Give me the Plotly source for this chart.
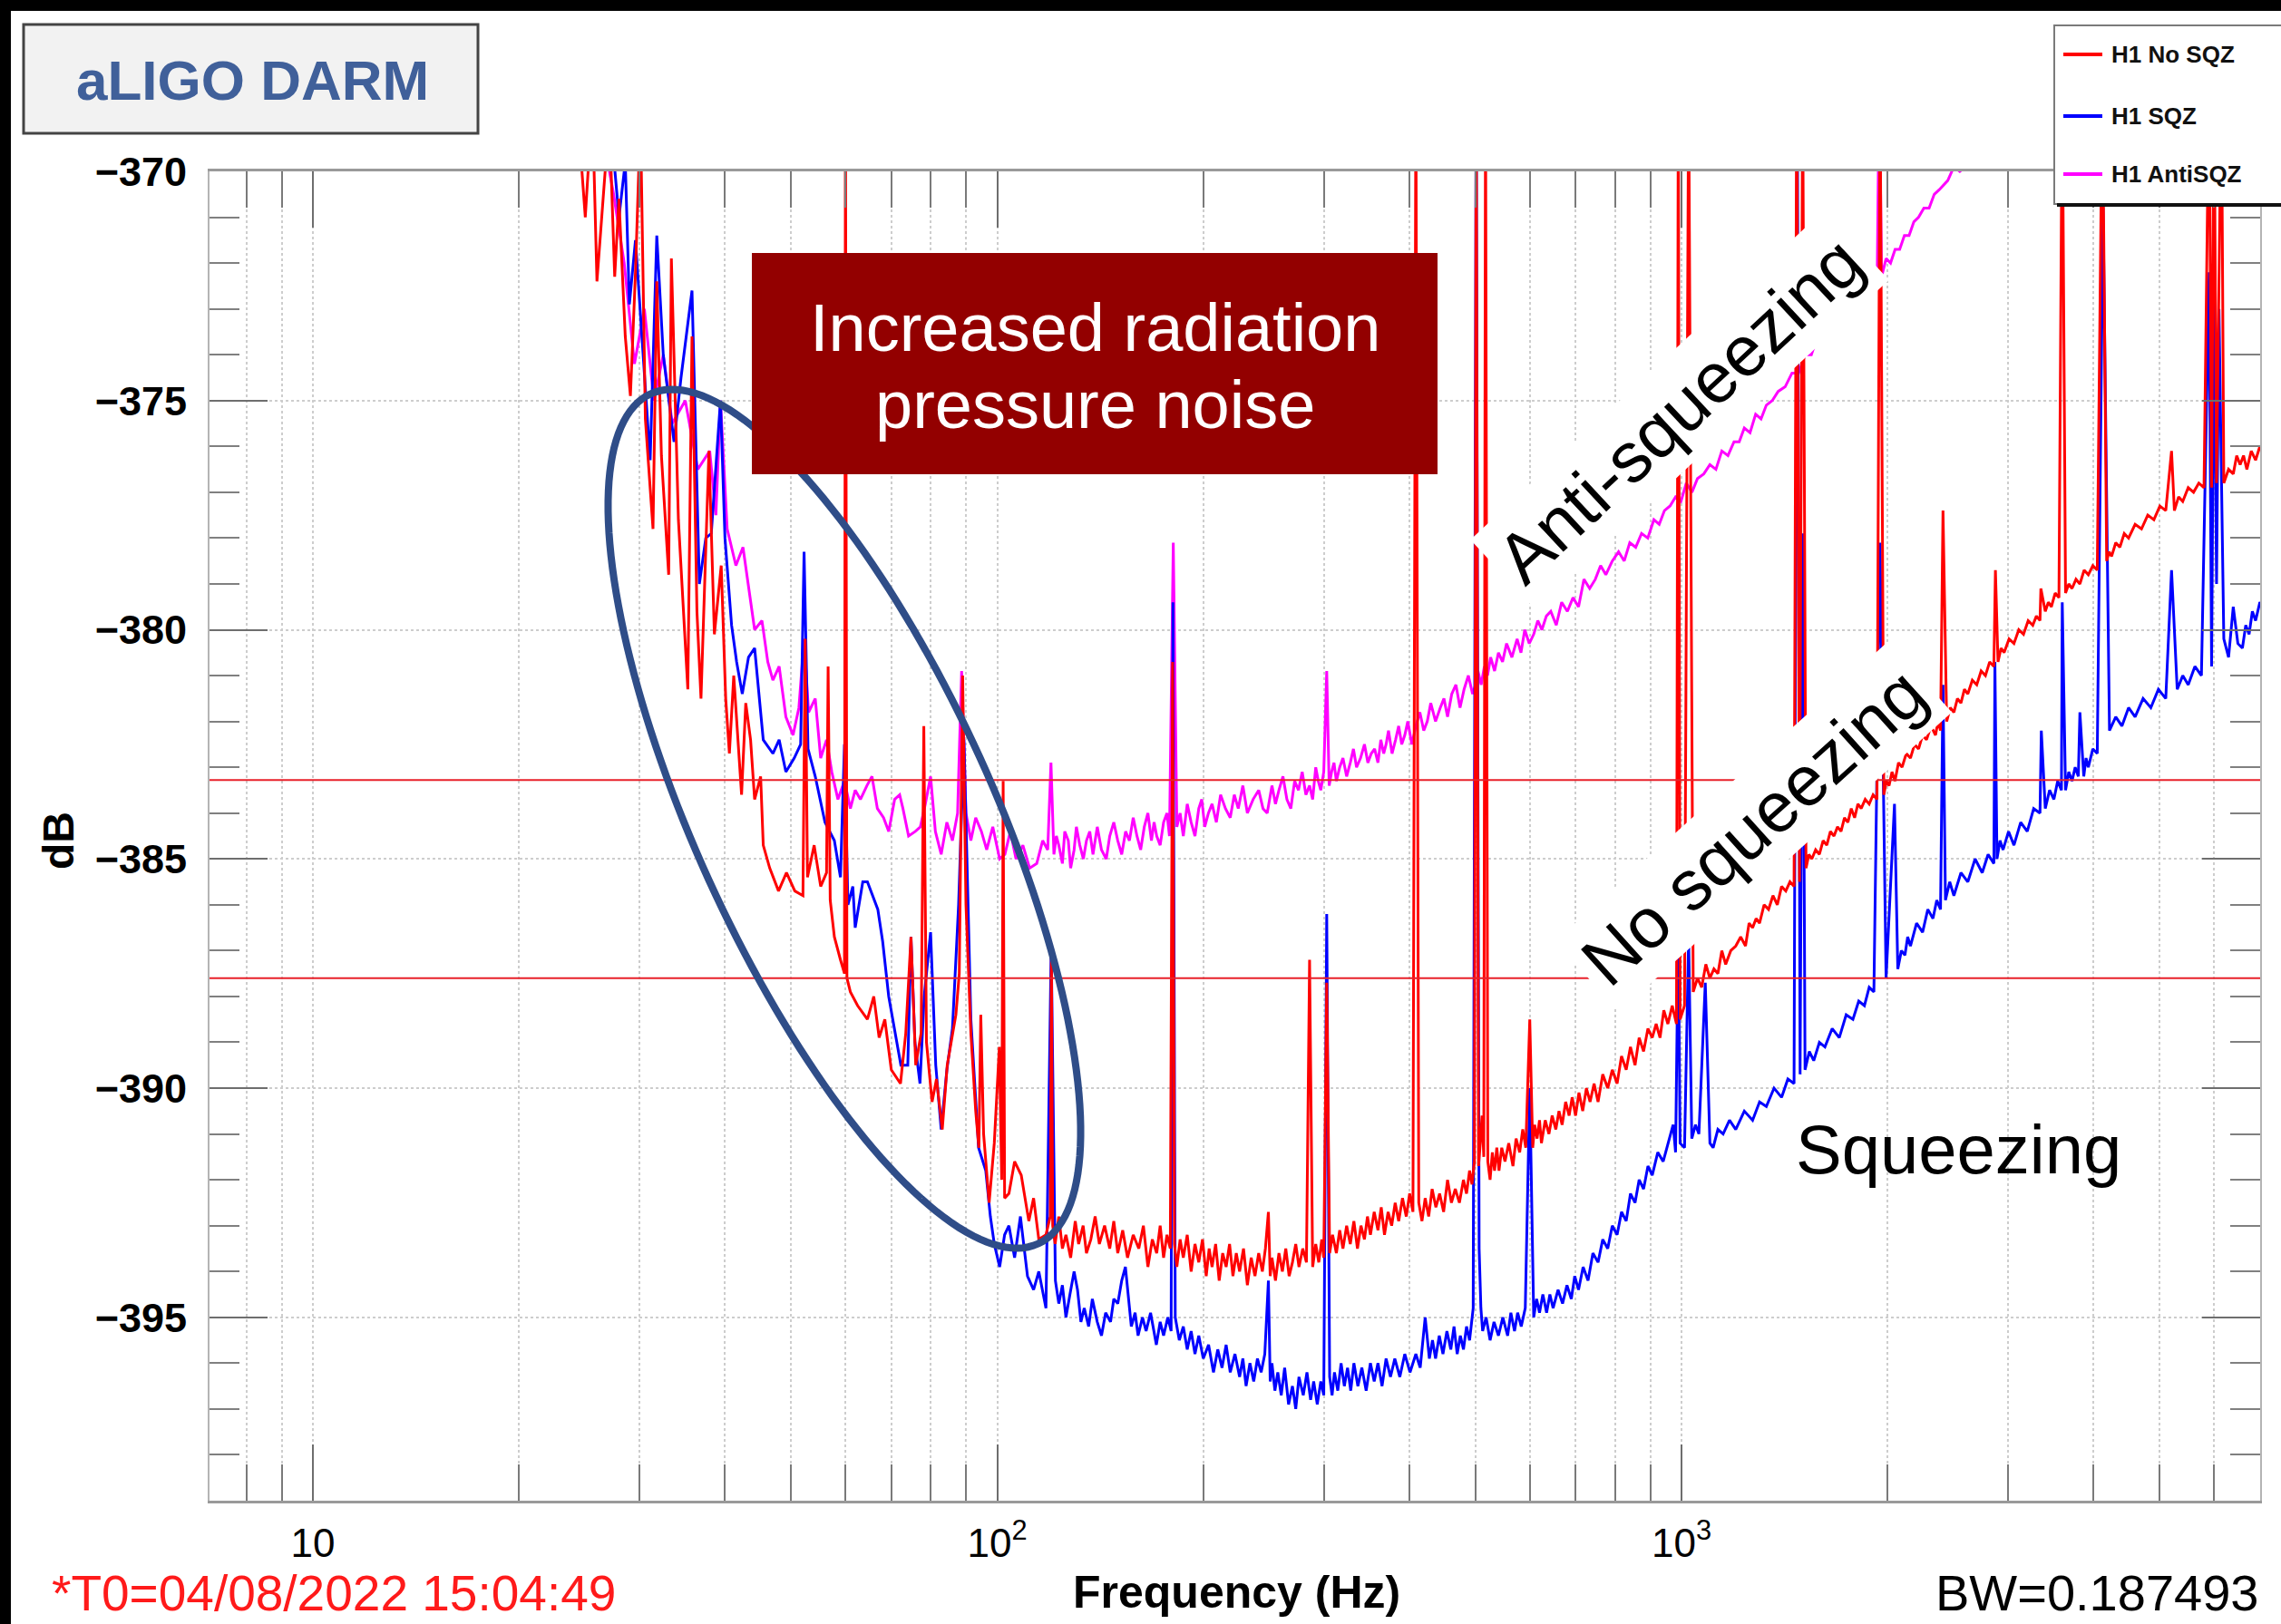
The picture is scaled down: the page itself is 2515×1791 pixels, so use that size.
import numpy as np
import plotly.graph_objects as go

# ---------------------------------------------------------------------------
# DARM spectra (frequency in Hz, level in dB), split into frequency bands
# ---------------------------------------------------------------------------
# H1 No SQZ
red_f_low = [
    20.0, 24.5, 25.0, 25.6, 26.0, 26.5, 27.1, 27.6, 28.0, 28.6,
    29.1, 29.6, 30.1, 30.6, 31.4, 31.8, 32.3, 33.1, 33.4, 34.2,
    35.3, 35.8, 36.4, 36.9, 37.9, 38.6, 39.5, 40.1, 40.6, 41.2,
    42.3, 42.9, 43.6, 44.2, 45.1, 45.5, 46.5, 47.9, 49.2, 50.6,
    52.0, 52.4, 52.8, 54.0, 55.2, 56.3, 56.6, 57.0, 57.8, 59.0,
    59.8, 60.0, 60.3, 61.0, 62.5, 64.6, 66.0, 67.2, 68.5, 70.0,
    72.2, 73.5, 74.8, 76.0, 77.4, 78.1, 78.8, 80.3, 81.5, 83.1,
    84.5, 87.0, 88.0, 89.0, 90.0, 91.5, 93.0, 94.0, 94.6, 95.5,
    97.3, 99.0, 100.7, 101.5, 102.0, 102.5, 104.0, 106.0, 108.4, 111.2,
    113.0, 115.0, 117.8, 119.5, 120.0, 120.5,
]
red_db_low = [
    -362.0, -369.2, -371.0, -368.5, -372.4, -370.8, -368.8, -372.3, -370.6, -373.6,
    -374.9, -372.2, -368.8, -375.4, -377.8, -372.4, -376.2, -378.8, -371.9, -377.6,
    -381.3, -373.6, -379.6, -381.5, -376.1, -380.1, -378.6, -381.5, -382.7, -381.0,
    -383.6, -381.6, -382.4, -383.7, -383.2, -384.7, -385.2, -385.7, -385.3, -385.7,
    -385.8, -380.2, -385.4, -384.7, -385.6, -385.3, -380.8, -385.9, -386.7, -387.2,
    -387.5, -368.0, -387.6, -387.9, -388.2, -388.5, -388.0, -388.9, -388.5, -389.6,
    -389.9, -388.8, -386.7, -389.5, -388.8, -382.1, -389.0, -390.3, -389.8, -390.9,
    -389.5, -388.4, -387.5, -381.0, -386.0, -388.8, -390.5, -391.3, -388.4, -391.0,
    -392.5, -391.2, -389.1, -392.0, -383.3, -392.4, -392.3, -391.6, -391.9, -392.9,
    -392.4, -393.3, -393.2, -392.8, -387.1, -393.0,
]
red_f_mid = [
    121.5, 123.0, 124.5, 126.0, 128.0, 130.0, 131.5, 133.5, 135.0, 137.0,
    139.0, 141.0, 143.5, 146.0, 148.0, 150.0, 152.5, 155.0, 158.0, 161.0,
    163.5, 166.0, 168.5, 171.0, 173.0, 175.0, 177.0, 179.0, 180.4, 181.5,
    183.0, 185.0, 187.0, 189.5, 192.0, 194.5, 197.0, 199.5, 202.0, 204.0,
    206.0, 208.5, 211.0, 213.5, 216.0, 218.5, 221.0, 223.5, 226.0, 229.0,
    232.0, 235.0, 238.0, 241.0, 244.0, 246.5, 249.0, 250.5, 252.0, 255.0,
    258.0, 261.0, 264.0, 267.0, 270.0, 273.0, 276.0, 279.5, 283.0, 286.0,
    289.0, 292.0, 295.0, 298.0, 300.0, 303.0, 306.0, 309.0, 313.0, 316.5,
    320.0, 324.0, 328.0, 332.0, 336.0, 340.0, 344.0, 347.5, 351.0, 355.5,
    360.0, 364.0, 368.0, 372.5, 377.0, 381.5, 386.0, 391.0, 396.0, 400.5,
    405.0, 409.0, 413.0, 417.5, 422.0, 427.0, 432.0, 437.5, 443.0, 449.0,
    455.0, 461.0, 467.0, 473.5, 480.0, 485.0, 490.0, 494.0, 498.0, 501.0,
    505.0, 508.0, 511.0, 514.0, 517.0, 521.0, 525.0, 529.0, 533.0, 537.0,
    541.0, 546.0, 552.0, 559.0, 567.0, 573.0, 580.0, 586.0, 592.0, 600.0,
    606.0, 610.0, 615.0, 620.0, 624.0, 632.0, 640.0, 647.0, 655.0, 662.0,
    669.0, 677.0, 685.0, 692.0, 700.0, 708.0, 717.0, 726.0, 735.0, 745.0,
    755.0, 767.0, 780.0, 792.0, 805.0, 817.0, 830.0, 842.0, 855.0, 867.0,
    880.0, 893.0, 906.0, 918.0, 930.0, 942.0, 955.0, 969.0, 983.0,
]
red_db_mid = [
    -393.4, -392.8, -393.5, -393.2, -393.7, -392.9, -393.4, -393.0, -393.6, -393.3,
    -392.8, -393.4, -393.0, -393.5, -392.9, -393.6, -393.1, -393.7, -393.2, -393.5,
    -393.0, -393.9, -393.3, -393.6, -393.0, -393.7, -393.2, -393.5, -380.7, -393.4,
    -393.9, -393.3, -393.7, -393.2, -394.0, -393.4, -393.8, -393.3, -394.1, -393.5,
    -393.9, -393.4, -394.2, -393.6, -393.9, -393.4, -394.1, -393.6, -394.0, -393.5,
    -394.3, -393.7, -394.1, -393.6, -394.0, -393.5, -392.7, -394.1, -393.7, -394.2,
    -393.6, -394.0, -393.5, -394.1, -393.8, -393.4, -393.9, -393.5, -393.8, -387.2,
    -393.9, -393.4, -393.8, -393.3, -393.7, -387.7, -393.6, -393.2, -393.6, -393.1,
    -393.5, -393.0, -393.4, -392.9, -393.5, -393.0, -393.3, -392.8, -393.2, -392.7,
    -393.1, -392.6, -393.2, -392.7, -393.0, -392.5, -392.9, -392.4, -392.8, -392.3,
    -392.7, -368.0, -392.5, -392.9, -392.4, -392.8, -392.2, -392.6, -392.3, -392.7,
    -392.0, -392.5, -392.2, -392.5, -392.0, -392.3, -391.8, -392.1, -391.6, -368.0,
    -391.7, -391.2, -390.6, -391.5, -368.0, -391.6, -392.0, -391.4, -391.8, -391.3,
    -391.8, -391.3, -391.6, -391.2, -391.7, -391.1, -391.4, -390.9, -391.3, -388.5,
    -391.3, -390.8, -391.1, -390.7, -391.2, -390.7, -391.0, -390.6, -390.9, -390.5,
    -390.8, -390.3, -390.6, -390.2, -390.6, -390.1, -390.5, -390.0, -390.3, -389.9,
    -390.3, -389.7, -390.0, -389.6, -389.9, -389.3, -389.6, -389.1, -389.5, -388.9,
    -389.2, -388.7, -388.9, -388.6, -388.9, -388.3, -388.6, -388.2, -388.6,
]
red_f_high = [
    989.0, 995.0, 1010.0, 1024.0, 1040.0, 1055.0, 1070.0, 1085.0, 1100.0, 1115.0,
    1130.0, 1145.0, 1160.0, 1180.0, 1200.0, 1220.0, 1240.0, 1255.0, 1270.0, 1285.0,
    1300.0, 1320.0, 1340.0, 1360.0, 1380.0, 1400.0, 1420.0, 1440.0, 1460.0, 1473.0,
    1487.0, 1503.0, 1520.0, 1535.0, 1550.0, 1570.0, 1590.0, 1610.0, 1630.0, 1650.0,
    1670.0, 1690.0, 1710.0, 1730.0, 1750.0, 1770.0, 1790.0, 1810.0, 1830.0, 1855.0,
    1880.0, 1905.0, 1930.0, 1950.0, 1975.0, 1992.0, 2010.0, 2030.0, 2050.0, 2075.0,
    2100.0, 2130.0, 2160.0, 2190.0, 2220.0, 2250.0, 2280.0, 2315.0, 2350.0, 2370.0,
    2390.0, 2410.0, 2440.0, 2470.0, 2500.0, 2530.0, 2560.0, 2590.0, 2620.0, 2660.0,
    2700.0, 2740.0, 2780.0, 2820.0, 2860.0, 2875.0, 2900.0, 2930.0, 2960.0, 3010.0,
    3060.0, 3110.0, 3160.0, 3210.0, 3260.0, 3300.0, 3340.0, 3350.0, 3400.0, 3435.0,
    3470.0, 3515.0, 3560.0, 3600.0, 3640.0, 3680.0, 3720.0, 3770.0, 3820.0, 3875.0,
    3930.0, 3990.0, 4050.0, 4120.0, 4180.0, 4215.0, 4250.0, 4310.0, 4370.0, 4435.0,
    4500.0, 4600.0, 4700.0, 4800.0, 4900.0, 5000.0, 5100.0, 5200.0, 5250.0, 5325.0,
    5400.0, 5500.0, 5600.0, 5700.0, 5800.0, 5900.0, 5950.0, 6000.0, 6050.0, 6150.0,
    6200.0, 6300.0, 6400.0, 6475.0, 6550.0, 6625.0, 6700.0, 6800.0, 6900.0, 7000.0, 7100.0,
]
red_db_high = [
    -368.0, -388.5, -388.2, -368.0, -387.9, -387.6, -387.8, -387.3, -387.6, -387.4,
    -387.5, -387.0, -387.3, -387.0, -386.9, -386.7, -386.9, -386.4, -386.5, -386.3,
    -386.4, -386.0, -386.1, -385.8, -386.0, -385.6, -385.7, -385.5, -385.6, -368.0,
    -385.5, -368.0, -385.2, -384.9, -385.0, -384.8, -384.9, -384.6, -384.7, -384.4,
    -384.5, -384.3, -384.4, -384.1, -384.2, -383.9, -384.1, -383.8, -383.9, -383.7,
    -383.8, -383.6, -383.7, -368.0, -383.6, -383.3, -383.4, -383.1, -383.3, -382.9,
    -383.0, -382.7, -382.8, -382.5, -382.6, -382.3, -382.4, -382.1, -382.3, -382.0,
    -382.2, -377.4, -382.0, -381.7, -381.8, -381.5, -381.6, -381.3, -381.4, -381.1,
    -381.2, -380.9, -381.0, -380.7, -380.8, -378.7, -380.7, -380.4, -380.5, -380.2,
    -380.3, -380.0, -380.1, -379.8, -379.9, -379.7, -379.8, -379.1, -379.6, -379.4,
    -379.5, -379.2, -379.3, -368.0, -379.2, -379.0, -379.1, -378.9, -379.0, -378.7,
    -378.8, -378.6, -378.7, -368.0, -378.5, -378.3, -378.4, -378.1, -378.2, -377.9,
    -378.0, -377.7, -377.8, -377.5, -377.6, -377.3, -377.4, -376.1, -377.4, -377.1,
    -377.2, -376.9, -377.0, -376.8, -376.9, -368.0, -376.9, -368.0, -376.8, -368.0,
    -376.8, -376.5, -376.6, -376.2, -376.4, -376.2, -376.5, -376.1, -376.3, -376.0, -376.1,
]

# H1 SQZ
blue_f_low = [
    20.0, 26.5, 27.4, 28.0, 28.6, 29.0, 29.6, 30.5, 31.1, 31.8,
    32.5, 33.7, 34.5, 35.8, 36.7, 37.5, 38.2, 39.4, 40.0, 40.9,
    41.6, 42.4, 43.3, 44.2, 45.5, 47.0, 48.0, 49.1, 50.5, 51.6,
    52.2, 52.9, 54.2, 56.0, 57.8, 59.0, 59.8, 60.5, 61.5, 62.0,
    63.6, 64.6, 66.9, 68.0, 69.4, 72.3, 74.0, 74.8, 75.8, 77.1,
    78.2, 79.9, 81.3, 82.8, 84.4, 86.0, 87.8, 89.4, 90.5, 91.5,
    93.9, 96.2, 97.7, 99.0, 100.8, 102.5, 104.0, 106.0, 108.1, 110.7,
    113.0, 115.0, 117.8, 119.9,
]
blue_db_low = [
    -362.0, -368.0, -369.4, -371.0, -369.8, -372.9, -371.5, -374.5, -376.3, -371.4,
    -374.0, -375.9, -374.5, -372.6, -379.0, -378.0, -377.9, -375.0, -378.0, -379.9,
    -380.7, -381.4, -380.6, -380.4, -382.4, -382.7, -382.4, -383.1, -382.8, -382.5,
    -378.3, -382.6, -383.2, -384.2, -384.6, -385.4, -382.5, -386.0, -385.6, -386.5,
    -385.5, -385.5, -386.1, -386.8, -388.0, -389.5, -389.5, -386.7, -389.0, -389.9,
    -388.0, -386.6, -389.5, -390.9, -389.6, -388.7, -386.0, -382.4, -385.6, -388.5,
    -391.3, -391.8, -392.8, -393.4, -393.9, -393.2, -393.0, -393.7, -392.8, -394.1,
    -394.4, -394.0, -394.8, -386.9,
]
blue_f_mid = [
    121.6, 123.0, 124.5, 126.0, 127.7, 129.5, 131.0, 132.5, 134.0, 136.0,
    137.7, 140.0, 142.0, 144.0, 146.4, 148.0, 150.0, 152.0, 153.9, 155.5,
    157.0, 159.0, 160.6, 163.0, 165.0, 167.5, 170.8, 173.0, 175.0, 177.5,
    179.5, 180.6, 182.0, 184.5, 187.0, 189.5, 192.0, 194.5, 197.0, 200.0,
    203.6, 207.0, 210.0, 213.0, 216.0, 219.0, 222.5, 226.0, 228.5, 231.0,
    234.0, 237.0, 240.0, 243.0, 246.0, 249.0, 250.5, 252.0, 254.5, 257.0,
    260.0, 263.0, 266.5, 270.0, 273.0, 276.0, 280.0, 283.5, 287.0, 290.0,
    293.5, 297.0, 300.0, 303.0, 306.0, 308.5, 311.0, 314.5, 318.0, 321.5,
    325.0, 328.5, 332.0, 336.5, 341.0, 346.0, 351.0, 355.5, 360.0, 365.0,
    370.0, 375.5, 381.0, 387.5, 394.0, 401.0, 409.0, 415.0, 422.0, 428.0,
    432.5, 437.0, 442.5, 448.0, 454.0, 460.0, 465.0, 470.0, 475.0, 480.0,
    485.0, 490.0, 496.0, 501.0, 506.0, 509.0, 512.0, 518.0, 525.0, 532.0,
    540.0, 548.0, 557.0, 563.0, 570.0, 576.0, 583.0, 591.0, 600.0, 608.0,
    614.0, 620.0, 627.0, 635.0, 642.0, 649.0, 660.0, 670.0, 680.0, 690.0,
    698.0, 707.0, 718.0, 730.0, 742.0, 755.0, 767.0, 780.0, 792.0, 805.0,
    817.0, 830.0, 842.0, 855.0, 867.0, 880.0, 893.0, 906.0, 923.0, 940.0,
    955.0, 972.0, 980.0, 989.0,
]
blue_db_mid = [
    -394.2, -394.7, -394.3, -395.0, -394.5, -394.0, -394.4, -395.1, -394.8, -395.2,
    -394.6, -395.1, -395.4, -394.9, -395.1, -394.6, -394.7, -394.2, -393.9, -394.6,
    -395.2, -394.9, -395.4, -395.0, -395.3, -394.9, -395.6, -395.1, -395.4, -395.0,
    -395.3, -379.4, -395.0, -395.5, -395.2, -395.7, -395.3, -395.8, -395.4, -395.9,
    -395.6, -396.2, -395.7, -396.1, -395.6, -396.2, -395.8, -396.3, -395.9, -396.5,
    -396.0, -396.4, -395.9, -396.2, -395.8, -394.2, -396.4, -396.0, -396.6, -396.2,
    -396.7, -396.1, -396.9, -396.5, -397.0, -396.3, -396.7, -396.2, -396.8, -396.4,
    -396.9, -396.4, -396.7, -386.2, -396.3, -396.7, -396.2, -396.6, -396.0, -396.5,
    -396.1, -396.6, -396.0, -396.5, -396.1, -396.6, -396.0, -396.4, -396.0, -396.5,
    -395.9, -396.3, -395.9, -396.3, -395.8, -396.2, -395.8, -396.1, -395.0, -395.9,
    -395.5, -395.9, -395.4, -395.8, -395.3, -395.7, -395.2, -395.8, -395.4, -395.7,
    -395.2, -395.5, -394.8, -368.0, -393.5, -394.8, -395.3, -395.0, -395.5, -395.1,
    -395.4, -395.0, -395.4, -394.9, -395.3, -394.9, -395.2, -394.8, -390.0, -395.0,
    -394.6, -394.9, -394.5, -394.9, -394.5, -394.8, -394.4, -394.7, -394.3, -394.6,
    -394.1, -394.4, -393.9, -394.2, -393.6, -393.8, -393.3, -393.5, -393.0, -393.2,
    -392.7, -392.9, -392.3, -392.5, -392.0, -392.2, -391.7, -391.9, -391.4, -391.6,
    -391.2, -390.8, -391.4, -386.5,
]
blue_f_high = [
    995.0, 1010.0, 1024.0, 1035.0, 1048.0, 1060.0, 1083.0, 1100.0, 1112.0, 1130.0,
    1150.0, 1175.0, 1200.0, 1235.0, 1270.0, 1300.0, 1330.0, 1365.0, 1400.0, 1430.0,
    1460.0, 1476.0, 1490.0, 1503.0, 1515.0, 1537.0, 1560.0, 1590.0, 1620.0, 1660.0,
    1700.0, 1740.0, 1780.0, 1815.0, 1850.0, 1880.0, 1910.0, 1950.0, 1990.0, 2047.0,
    2070.0, 2095.0, 2120.0, 2140.0, 2160.0, 2205.0, 2250.0, 2290.0, 2330.0, 2360.0,
    2390.0, 2410.0, 2430.0, 2465.0, 2500.0, 2560.0, 2620.0, 2685.0, 2750.0, 2805.0,
    2860.0, 2870.0, 2890.0, 2920.0, 2950.0, 3005.0, 3060.0, 3130.0, 3200.0, 3270.0,
    3340.0, 3355.0, 3400.0, 3450.0, 3500.0, 3545.0, 3590.0, 3600.0, 3640.0, 3680.0,
    3720.0, 3760.0, 3800.0, 3820.0, 3870.0, 3900.0, 3930.0, 3990.0, 4050.0, 4130.0,
    4220.0, 4310.0, 4400.0, 4500.0, 4600.0, 4725.0, 4850.0, 4975.0, 5100.0, 5200.0,
    5300.0, 5400.0, 5500.0, 5625.0, 5750.0, 5900.0, 5950.0, 6000.0, 6050.0, 6100.0,
    6200.0, 6300.0, 6400.0, 6500.0, 6600.0, 6675.0, 6750.0, 6825.0, 6900.0, 7000.0, 7100.0,
]
blue_db_high = [
    -391.2, -391.3, -386.7, -391.1, -390.8, -391.0, -387.7, -391.2, -391.3, -390.9,
    -391.0, -390.7, -390.9, -390.5, -390.7, -390.3, -390.4, -390.0, -390.2, -389.8,
    -389.9, -368.0, -389.7, -377.9, -389.6, -389.2, -389.4, -389.0, -389.1, -388.7,
    -388.9, -388.4, -388.5, -388.1, -388.2, -387.8, -387.9, -378.1, -387.6, -383.8,
    -387.4, -387.0, -387.1, -386.7, -386.9, -386.4, -386.6, -386.1, -386.3, -385.9,
    -386.1, -381.2, -385.9, -385.5, -385.8, -385.3, -385.5, -385.0, -385.3, -384.9,
    -385.1, -380.7, -385.0, -384.6, -384.8, -384.4, -384.7, -384.2, -384.4, -383.9,
    -384.0, -382.2, -383.9, -383.5, -383.7, -383.3, -383.5, -379.4, -383.5, -383.1,
    -383.3, -383.0, -383.2, -381.8, -383.2, -382.8, -383.0, -382.6, -382.7, -370.8,
    -382.2, -381.9, -382.1, -381.7, -381.9, -381.5, -381.7, -381.3, -381.5, -378.7,
    -381.3, -381.0, -381.2, -380.8, -381.0, -372.2, -380.8, -372.5, -379.0, -373.0,
    -380.2, -380.6, -379.5, -380.3, -380.4, -379.9, -380.1, -379.6, -379.8, -379.4, -379.5,
]

# H1 AntiSQZ
anti_f_low = [
    20.0, 26.0, 27.5, 28.5, 29.5, 30.5, 31.5, 32.5, 33.5, 35.0,
    36.5, 38.0, 38.8, 39.4, 40.3, 41.5, 42.5, 43.3, 44.2, 45.3,
    46.2, 47.0, 48.0, 49.1, 50.3, 51.3, 52.2, 53.0, 54.2, 55.2,
    56.3, 57.3, 58.5, 59.8, 61.0, 62.0, 63.1, 64.5, 65.6, 66.8,
    68.2, 69.4, 70.8, 72.0, 72.8, 74.2, 75.9, 77.2, 78.5, 79.9,
    81.2, 82.8, 84.4, 86.0, 87.5, 88.7, 90.0, 91.5, 93.0, 94.8,
    96.5, 98.5, 100.8, 102.6, 104.5, 106.5, 109.0, 111.5, 114.2, 116.5,
    118.5, 119.8,
]
anti_db_low = [
    -362.0, -368.5, -370.5, -372.0, -374.2, -373.0, -375.0, -374.0, -375.5, -375.0,
    -376.5, -376.1, -377.5, -375.0, -377.8, -378.6, -378.2, -379.1, -380.0, -379.8,
    -380.7, -381.1, -380.8, -381.9, -382.3, -381.7, -380.2, -381.8, -381.5, -382.8,
    -382.4, -383.1, -383.7, -383.3, -383.9, -383.5, -383.7, -383.4, -383.2, -383.9,
    -384.1, -384.4, -383.7, -383.6, -383.9, -384.5, -384.4, -384.3, -383.8, -383.2,
    -384.4, -384.9, -384.2, -384.6, -384.0, -380.9, -384.0, -384.6, -384.1, -384.4,
    -384.8, -384.3, -385.0, -384.9, -384.4, -385.0, -384.7, -385.2, -385.1, -384.6,
    -384.8, -382.9,
]
anti_f_mid = [
    121.0, 122.0, 123.0, 124.5, 125.5, 127.0, 128.0, 129.5, 130.5, 132.0,
    133.6, 135.0, 136.5, 138.0, 140.0, 142.0, 144.3, 146.0, 148.0, 150.0,
    152.0, 154.0, 156.0, 158.0, 160.0, 162.0, 164.0, 166.0, 168.0, 169.5,
    171.0, 173.0, 175.0, 177.0, 178.5, 180.8, 183.0, 185.0, 187.0, 189.5,
    192.0, 194.5, 197.0, 199.0, 201.0, 203.5, 206.0, 209.0, 212.0, 215.5,
    219.0, 222.0, 225.0, 228.5, 232.0, 236.5, 241.0, 244.5, 248.0, 252.0,
    255.0, 258.0, 261.5, 265.0, 268.5, 272.0, 275.5, 279.0, 282.5, 286.0,
    289.0, 292.0, 294.5, 297.0, 300.0, 303.0, 305.5, 308.0, 310.5, 313.0,
    316.5, 320.0, 324.0, 328.0, 331.5, 335.0, 339.5, 344.0, 348.0, 352.0,
    356.0, 360.0, 363.5, 367.0, 370.0, 373.0, 377.5, 382.0, 386.0, 390.0,
    394.0, 398.0, 403.5, 409.0, 414.5, 420.0, 425.0, 430.0, 437.0, 444.0,
    449.5, 455.0, 461.5, 468.0, 474.5, 481.0, 488.0, 495.0, 500.0, 504.0,
    509.5, 515.0, 520.5, 526.0, 533.0, 540.0, 547.5, 555.0, 565.0, 575.0,
    582.5, 590.0, 599.0, 608.0, 616.5, 625.0, 634.5, 644.0, 656.0, 668.0,
]
anti_db_mid = [
    -384.9, -384.5, -384.7, -385.1, -384.4, -384.6, -385.2, -384.8, -384.3, -384.7,
    -385.0, -384.6, -384.4, -384.9, -384.3, -384.8, -385.0, -384.5, -384.2, -384.6,
    -384.9, -384.4, -384.6, -384.1, -384.5, -384.8, -384.3, -384.0, -384.6, -384.2,
    -384.5, -384.7, -384.2, -384.0, -384.5, -378.1, -384.3, -384.0, -384.5, -383.8,
    -384.2, -384.5, -383.9, -383.7, -384.3, -384.0, -383.8, -384.2, -383.6, -383.9,
    -384.1, -383.6, -383.9, -383.4, -384.0, -383.7, -383.5, -383.9, -384.0, -383.4,
    -383.8, -383.5, -383.2, -383.7, -383.9, -383.3, -383.5, -383.1, -383.6, -383.4,
    -383.7, -383.0, -383.3, -383.5, -383.1, -380.9, -383.4, -383.1, -382.9, -383.3,
    -383.0, -382.8, -383.2, -382.9, -382.6, -383.0, -382.8, -382.5, -382.9, -382.7,
    -382.6, -382.9, -382.4, -382.7, -382.5, -382.2, -382.7, -382.4, -382.1, -382.5,
    -382.3, -382.0, -382.5, -382.1, -381.8, -382.2, -382.0, -381.6, -382.0, -381.7,
    -381.5, -381.9, -381.4, -381.2, -381.7, -381.3, -381.0, -381.4, -381.2, -380.9,
    -381.2, -380.8, -381.0, -380.6, -380.9, -380.5, -380.7, -380.3, -380.6, -380.2,
    -380.5, -380.0, -380.3, -380.1, -379.8, -380.0, -379.7, -379.6, -379.9, -379.4,
]
anti_f_high = [
    681.0, 694.0, 707.0, 720.0, 734.0, 748.0, 761.5, 775.0, 792.0, 809.0,
    824.5, 840.0, 857.0, 874.0, 892.5, 911.0, 927.5, 944.0, 962.0, 980.0,
    998.0, 1016.0, 1035.5, 1055.0, 1077.5, 1100.0, 1122.5, 1145.0, 1169.0, 1193.0,
    1214.0, 1235.0, 1259.0, 1283.0, 1306.5, 1330.0, 1357.0, 1384.0, 1417.0, 1450.0,
    1482.5, 1515.0, 1547.5, 1580.0, 1617.5, 1655.0, 1692.5, 1730.0, 1765.0, 1800.0,
    1835.0, 1870.0, 1901.0, 1932.0, 1945.0, 1960.0, 1990.0, 2020.0, 2051.5, 2083.0,
    2116.5, 2150.0, 2185.0, 2220.0, 2260.0, 2300.0, 2340.0, 2380.0, 2414.5, 2449.0,
    2500.0, 2550.0, 2650.0, 2808.0, 3000.0, 3500.0,
]
anti_db_high = [
    -379.6, -379.3, -379.5, -378.9, -379.1, -378.9, -378.6, -378.8, -378.5, -378.3,
    -378.5, -378.1, -378.2, -377.9, -378.0, -377.6, -377.7, -377.4, -377.3, -377.1,
    -377.2, -376.8, -377.0, -376.7, -376.6, -376.4, -376.5, -376.1, -376.2, -375.9,
    -375.9, -375.6, -375.7, -375.3, -375.4, -375.1, -375.0, -374.8, -374.7, -374.4,
    -374.4, -374.0, -374.0, -373.6, -373.6, -373.2, -373.2, -372.9, -372.9, -372.5,
    -372.6, -372.3, -372.4, -372.1, -368.0, -372.3, -371.9, -372.0, -371.7, -371.7,
    -371.4, -371.4, -371.1, -371.0, -370.8, -370.8, -370.5, -370.4, -370.3, -370.2,
    -369.9, -370.0, -369.8, -369.5, -369.3, -368.5,
]

# horizontal reference levels drawn across the spectrum
ref_levels = [-383.28, -387.6]

# axis ticks
x_major = [10, 100, 1000]
x_major_text = ["10", "10<sup>2</sup>", "10<sup>3</sup>"]
x_minor = [8, 9] + [m * d for d in (10, 100, 1000) for m in range(2, 10) if m * d <= 7000]

series = [
    ("H1 AntiSQZ", anti_f_low + anti_f_mid + anti_f_high,
     anti_db_low + anti_db_mid + anti_db_high, "#ff00ff"),
    ("H1 SQZ", blue_f_low + blue_f_mid + blue_f_high,
     blue_db_low + blue_db_mid + blue_db_high, "#0000ff"),
    ("H1 No SQZ", red_f_low + red_f_mid + red_f_high,
     red_db_low + red_db_mid + red_db_high, "#ff0000"),
]

# ---------------------------------------------------------------------------
# canvas geometry (pixels) and helpers to place decorations in paper units
# ---------------------------------------------------------------------------
W, H = 2515, 1791
PL, PR, PT, PB = 231, 2492, 189, 1655


def pxx(X):
    return (X - PL) / (PR - PL)


def pxy(Y):
    return (PB - Y) / (PB - PT)


SANS = "Liberation Sans, Arial, Helvetica, sans-serif"

fig = go.Figure()
for name, fx, fy, col in series:
    fig.add_trace(go.Scatter(x=fx, y=fy, mode="lines", name=name,
                             line=dict(color=col, width=3), showlegend=False))

grid_col = "#cdcdcd"
fig.update_xaxes(
    type="log", range=[np.log10(7.06), np.log10(7006)],
    tickmode="array", tickvals=x_major, ticktext=x_major_text,
    ticks="inside", ticklen=62, tickwidth=2, tickcolor="#6e6e6e",
    showgrid=True, gridcolor=grid_col, griddash="dot", gridwidth=2,
    minor=dict(tickmode="array", tickvals=x_minor, ticks="inside", ticklen=40,
               tickwidth=2, tickcolor="#7a7a7a", showgrid=True,
               gridcolor=grid_col, griddash="dot", gridwidth=2),
    showline=True, linecolor="#9a9a9a", linewidth=3, mirror="allticks",
    tickfont=dict(family=SANS, size=44, color="black"),
    ticklabelstandoff=6, zeroline=False, automargin=False,
)
fig.update_yaxes(
    range=[-399, -370], tickmode="linear", tick0=-370, dtick=5,
    ticks="inside", ticklen=64, tickwidth=2, tickcolor="#6e6e6e",
    showgrid=True, gridcolor=grid_col, griddash="dot", gridwidth=2,
    minor=dict(tick0=-370, dtick=1, ticks="inside", ticklen=33, tickwidth=2,
               tickcolor="#808080", showgrid=False),
    showline=True, linecolor="#b4b4b4", linewidth=2, mirror="allticks",
    tickfont=dict(family=SANS, size=45, color="black", weight="bold"),
    ticklabelstandoff=14, zeroline=False, automargin=False,
)

shapes = []
# reference levels
for lvl in ref_levels:
    shapes.append(dict(type="line", xref="paper", yref="y", x0=0, x1=1, y0=lvl, y1=lvl,
                       line=dict(color="#e8202a", width=2)))

# rotated ellipse around the low-frequency region
cx, cy, ea, eb, th = 931, 903, 515, 164, np.deg2rad(65.5)
t = np.linspace(0, 2 * np.pi, 181)
ex = cx + ea * np.cos(t) * np.cos(th) - eb * np.sin(t) * np.sin(th)
ey = cy + ea * np.cos(t) * np.sin(th) + eb * np.sin(t) * np.cos(th)
path = "M " + " L ".join(f"{pxx(a):.5f},{pxy(b):.5f}" for a, b in zip(ex, ey)) + " Z"
shapes.append(dict(type="path", xref="paper", yref="paper", path=path,
                   line=dict(color="#2f4d88", width=8)))

# dark red callout box
shapes.append(dict(type="rect", xref="paper", yref="paper",
                   x0=pxx(829), x1=pxx(1585), y0=pxy(279), y1=pxy(523),
                   fillcolor="#930000", line=dict(width=0)))

# title box
shapes.append(dict(type="rect", xref="paper", yref="paper",
                   x0=pxx(26), x1=pxx(527), y0=pxy(27), y1=pxy(147),
                   fillcolor="#f2f2f2", line=dict(color="#444444", width=3)))

# legend box
shapes.append(dict(type="rect", xref="paper", yref="paper",
                   x0=pxx(2265), x1=pxx(W + 20), y0=pxy(28), y1=pxy(225),
                   fillcolor="white", line=dict(color="#7a7a7a", width=2)))
shapes.append(dict(type="line", xref="paper", yref="paper",
                   x0=pxx(2268), x1=pxx(W + 20), y0=pxy(226), y1=pxy(226),
                   line=dict(color="#111111", width=4)))
legend_rows = [(60, "#ff0000", "H1 No SQZ"), (128, "#0000ff", "H1 SQZ"),
               (192, "#ff00ff", "H1 AntiSQZ")]
for ly, col, _ in legend_rows:
    shapes.append(dict(type="line", xref="paper", yref="paper",
                       x0=pxx(2275), x1=pxx(2318), y0=pxy(ly), y1=pxy(ly),
                       line=dict(color=col, width=4)))

# black canvas edges
shapes.append(dict(type="rect", xref="paper", yref="paper",
                   x0=pxx(0), x1=pxx(W), y0=pxy(0), y1=pxy(12),
                   fillcolor="black", line=dict(width=0)))
shapes.append(dict(type="rect", xref="paper", yref="paper",
                   x0=pxx(0), x1=pxx(12), y0=pxy(0), y1=pxy(H),
                   fillcolor="black", line=dict(width=0)))

ann = []


def note(X, Y, text, size, family=SANS, color="black", xanchor="center",
         yanchor="middle", angle=0, bg=None, pad=0, weight="normal"):
    d = dict(xref="paper", yref="paper", x=pxx(X), y=pxy(Y), text=text,
             showarrow=False, xanchor=xanchor, yanchor=yanchor, textangle=angle,
             font=dict(family=family, size=size, color=color, weight=weight),
             borderpad=pad)
    if bg:
        d["bgcolor"] = bg
    ann.append(d)


note(1207, 362, "Increased radiation", 74, color="white")
note(1207, 447, "pressure noise", 74, color="white")
note(1852, 452, "Anti-squeezing", 78, angle=-43, bg="white", pad=8)
note(1933, 912, "No squeezing", 78, angle=-42, bg="white", pad=8)
note(2159, 1267, "Squeezing", 76)

note(278, 88, "aLIGO DARM", 62, color="#40609a", weight="bold")
for ly, _, label in legend_rows:
    note(2327, ly, label, 26, xanchor="left", weight="bold", color="#111111")

note(64, 927, "dB", 48, angle=-90, weight="bold")
note(56, 1757, "*T0=04/08/2022 15:04:49", 55, color="#ff1a1a", xanchor="left")
note(1363, 1756, "Frequency (Hz)", 50, weight="bold")
note(2491, 1756, "BW=0.187493", 56, xanchor="right")

fig.update_layout(
    width=W, height=H, autosize=False,
    margin=dict(l=PL, r=W - PR, t=PT, b=H - PB, pad=0),
    paper_bgcolor="white", plot_bgcolor="white",
    shapes=shapes, annotations=ann, showlegend=False,
)

fig.write_html("out.html")
